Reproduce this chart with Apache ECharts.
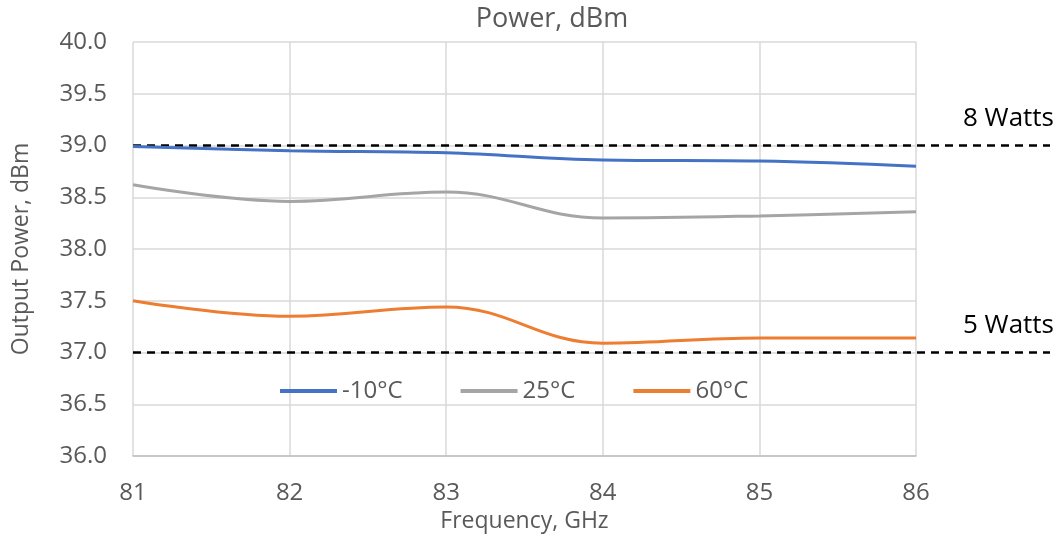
<!DOCTYPE html>
<html><head><meta charset="utf-8">
<script src="https://cdn.jsdelivr.net/npm/echarts@6/dist/echarts.min.js"></script>
<style>html,body{margin:0;padding:0;background:#fff}#c{width:1060px;height:540px}</style>
</head><body><div id="c"></div>
<script>
const freqs = [81, 82, 83, 84, 85, 86];
const seriesNames = ['-10°C', '25°C', '60°C'];
const tMinus10 = [38.99, 38.95, 38.93, 38.86, 38.85, 38.80];
const t25 = [38.62, 38.46, 38.55, 38.30, 38.32, 38.36];
const t60 = [37.50, 37.35, 37.44, 37.09, 37.14, 37.14];
const refLevels = [39.0, 37.0];
const refLabels = ['8 Watts', '5 Watts'];
const colors = ['#4472C4', '#A5A5A5', '#ED7D31'];
const FONT = 'Open Sans';
const txt = '#595959';

const pairs = arr => freqs.map((f, i) => [f, arr[i]]);
const chart = echarts.init(document.getElementById('c'));
chart.setOption({
  animation: false,
  textStyle: { fontFamily: FONT },
  title: { text: 'Power, dBm', left: 547, top: 1, textAlign: 'center',
    textStyle: { fontFamily: FONT, fontSize: 27, fontWeight: 'normal', color: txt } },
  legend: {
    data: seriesNames, left: 275, top: 374, itemWidth: 57, itemHeight: 4, itemGap: 58,
    icon: 'rect',
    textStyle: { fontFamily: FONT, fontSize: 24, color: txt, padding: [0, 0, 0, 0] }
  },
  grid: [
    { left: 133, right: 144, top: 42, bottom: 84, outerBoundsMode: 'none', containLabel: false },
    { left: 133, right: 10, top: 42, bottom: 84, outerBoundsMode: 'none', containLabel: false }
  ],
  xAxis: [
    { type: 'value', gridIndex: 0, min: 81, max: 86, interval: 1,
      name: 'Frequency, GHz', nameLocation: 'middle', nameGap: 54,
      nameTextStyle: { fontFamily: FONT, fontSize: 23, color: txt },
      axisLine: { lineStyle: { color: '#BFBFBF', width: 1.5 } },
      axisTick: { show: false },
      axisLabel: { fontFamily: FONT, fontSize: 24, color: txt, margin: 25 },
      splitLine: { show: true, lineStyle: { color: '#D9D9D9', width: 1.5 } } },
    { type: 'value', gridIndex: 1, min: 0, max: 1, show: false }
  ],
  yAxis: [
    { type: 'value', gridIndex: 0, min: 36, max: 40, interval: 0.5,
      name: 'Output Power, dBm', nameLocation: 'middle', nameGap: 100,
      nameTextStyle: { fontFamily: FONT, fontSize: 23, color: txt },
      axisLine: { show: false }, axisTick: { show: false },
      axisLabel: { fontFamily: FONT, fontSize: 24, color: txt, margin: 26,
        formatter: v => v.toFixed(1) },
      splitLine: { lineStyle: { color: '#D9D9D9', width: 1.5 } } },
    { type: 'value', gridIndex: 1, min: 36, max: 40, show: false }
  ],
  series: [
    { name: seriesNames[0], type: 'line', data: pairs(tMinus10), smooth: 0.4, showSymbol: false,
      lineStyle: { color: colors[0], width: 3 }, itemStyle: { color: colors[0] }, z: 5 },
    { name: seriesNames[1], type: 'line', data: pairs(t25), smooth: 0.4, showSymbol: false,
      lineStyle: { color: colors[1], width: 3 }, itemStyle: { color: colors[1] }, z: 5 },
    { name: seriesNames[2], type: 'line', data: pairs(t60), smooth: 0.4, showSymbol: false,
      lineStyle: { color: colors[2], width: 3 }, itemStyle: { color: colors[2] }, z: 5 },
    { name: 'ref', type: 'line', xAxisIndex: 1, yAxisIndex: 1, data: [], z: 6,
      markLine: {
        silent: true, symbol: ['none', 'none'],
        lineStyle: { color: '#000', type: [8, 6], width: 2.5 },
        data: refLevels.map((v, i) => ({ yAxis: v,
          label: { show: true, position: 'insideEndTop', formatter: refLabels[i],
            fontFamily: FONT, fontSize: 26, color: '#000', distance: [-4, 14] } }))
      } }
  ]
});
</script></body></html>
